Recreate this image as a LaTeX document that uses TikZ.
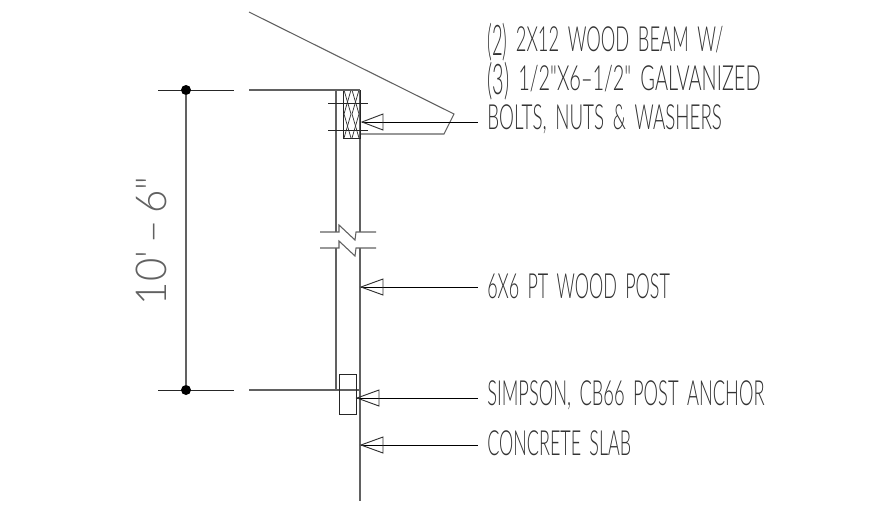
\documentclass[tikz,border=0pt]{standalone}
\usepackage{fontspec}
\usepackage{graphicx}
\newfontfamily\cad[WordSpace=1.7]{Lato Light}
\definecolor{cadgray}{gray}{0.38}
\definecolor{cadtxt}{gray}{0.2}
\tikzset{
  cadline/.style={draw=cadgray,line width=0.8pt},
  blackline/.style={draw=black!85,line width=0.75pt},
  leader/.style={draw=black,line width=0.75pt},
  head/.style={draw=black!80,line width=0.7pt},
  thinx/.style={draw=black!80,line width=0.55pt},
  lab/.style={anchor=west,inner sep=0pt,text=cadtxt,font=\cad\fontsize{26}{26}\selectfont},
  dimtxt/.style={inner sep=0pt,text=cadgray,rotate=90,font=\cad\fontsize{32}{32}\selectfont},
  dimdot/.style={circle,fill=black,inner sep=0pt,minimum size=7.5pt}
}
\newcommand{\fitw}[2]{\resizebox{#1pt}{\height}{#2}}
\newcommand{\parn}[1]{\raisebox{-0.12em}{\scalebox{1}[1.22]{#1}}}
\begin{document}
\begin{tikzpicture}[x=0.75pt,y=-0.75pt]
\useasboundingbox[fill=white] (0,0) rectangle (870,512);
% roof / beam outline
\coordinate (r1) at (249,12); \coordinate (r2) at (454,114);
\coordinate (r3) at (444,134); \coordinate (r4) at (360,134);
\draw[cadline] (r1) -- (r2) -- (r3) -- (r4);
% post
\draw[cadline] (336,90) -- (336,232);
\draw[cadline] (336,248) -- (336,390);
\draw[cadline] (360,90) -- (360,232);
\draw[cadline] (360,248) -- (360,501);
\draw[cadline] (320,232) -- (339,232) -- (339,225) -- (355,240) -- (356,232) -- (376,232);
\draw[cadline] (320,248) -- (339,248) -- (339,241) -- (355,256) -- (356,248) -- (376,248);
% beam
\draw[blackline] (343,90) rectangle (360,138);
\draw[blackline] (328,103) -- (368,103) (328,130) -- (368,130);
\foreach \a/\b in {344/351,352/359}{
  \draw[thinx] (\a,90) -- (\b,114) -- (\a,138);
  \draw[thinx] (\b,90) -- (\a,114) -- (\b,138);
}
% extension lines
\draw[cadline] (249,90) -- (360,90);
\draw[cadline] (249,390) -- (360,390);
\draw[blackline] (158,90) -- (234,90);
\draw[blackline] (158,390) -- (234,390);
% dimension
\node[dimdot] (d1) at (186,90) {};
\node[dimdot] (d2) at (186,390) {};
\draw[cadline] (d1) -- (d2);
\node[dimtxt] (dt) at (151.5,241) {\fitw{96}{10\symbol{39}\,–\,6\symbol{34}}};
% anchor
\draw[blackline] (339,374) rectangle (356,414);
% labels
\node[lab] (t1) at (487,42) {\fitw{177}{\parn{(2)} 2X12 WOOD BEAM W/}};
\node[lab] (t2) at (487,81) {\fitw{205}{\parn{(3)} 1/2\symbol{34}X6–1/2\symbol{34} GALVANIZED}};
\node[lab] (t3) at (487,119) {\fitw{176}{BOLTS, NUTS \& WASHERS}};
\node[lab] (t4) at (487,286) {\fitw{137}{6X6 PT WOOD POST}};
\node[lab] (t5) at (487,395) {\fitw{208}{SIMPSON, CB66 POST ANCHOR}};
\node[lab] (t6) at (487,443) {\fitw{108}{CONCRETE SLAB}};
% leaders
\coordinate (a3) at (362,122); \coordinate (e3) at (478,122);
\coordinate (a4) at (361,287); \coordinate (e4) at (478,287);
\coordinate (a5) at (357,398); \coordinate (e5) at (478,398);
\coordinate (a6) at (361,445); \coordinate (e6) at (478,445);
\draw[leader] (a3) -- (e3);
\draw[leader] (a4) -- (e4);
\draw[leader] (a5) -- (e5);
\draw[leader] (a6) -- (e6);
\draw[head] (a3) -- ++(21,-8) -- ++(0,16) -- cycle;
\draw[head] (a4) -- ++(22,-8) -- ++(0,16) -- cycle;
\draw[head] (a5) -- ++(22,-8) -- ++(0,16) -- cycle;
\draw[head] (a6) -- ++(22,-8) -- ++(0,16) -- cycle;
\end{tikzpicture}
\end{document}
